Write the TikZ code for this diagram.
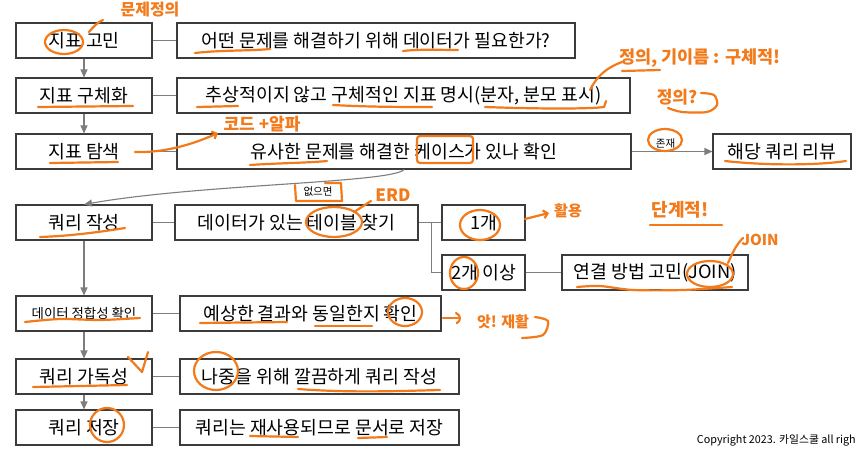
\documentclass[tikz,border=0pt]{standalone}
\usepackage{fontspec}
\setmainfont{Noto Sans CJK KR}
\usetikzlibrary{arrows.meta,positioning,calc}
\definecolor{boxgray}{RGB}{60,60,60}
\definecolor{linegray}{RGB}{125,125,125}
\definecolor{penorange}{RGB}{242,122,26}

\begin{document}
\begin{tikzpicture}[x=1pt,y=-1pt,
  box/.style={draw=boxgray, line width=1.1pt, minimum height=35pt, inner sep=0pt,
    font=\fontsize{18.3}{18.3}\selectfont},
  link/.style={draw=linegray, line width=1.1pt},
  flow/.style={link, -{Triangle[length=8pt,width=7pt]}},
  small/.style={font=\fontsize{10.5}{10.5}\selectfont, inner sep=1pt},
  pen/.style={draw=penorange, line width=2.2pt, line cap=round, line join=round},
  hand/.style={text=penorange, font=\bfseries\fontsize{15}{15}\selectfont, inner sep=0pt}]
  % Page
  \fill[white] (0,0) rectangle (857,450);
  \useasboundingbox (0,0) rectangle (857,450);
  % Left column: steps
  \node[box, minimum width=136pt] (think)  at (84,40.5)  {지표 고민};
  \node[box, minimum width=136pt] (define) at (84,95.5)  {지표 구체화};
  \node[box, minimum width=136pt] (search) at (84,151.5) {지표 탐색};
  \node[box, minimum width=136pt] (write)  at (84,222.5) {쿼리 작성};
  \node[box, minimum width=136pt, font=\fontsize{13.4}{13.4}\selectfont] (check) at (84,313.5) {데이터 정합성 확인};
  \node[box, minimum width=136pt] (tidy)   at (84,376.5) {쿼리 가독성};
  \node[box, minimum width=136pt] (save)   at (84,427.5) {쿼리 저장};
  % Right column: details
  \node[box, minimum width=398pt] (need)    at (376,40.5)  {어떤 문제를 해결하기 위해 데이터가 필요한가?};
  \node[box, minimum width=453pt] (spec)    at (403.5,95.5) {추상적이지 않고 구체적인 지표 명시(분자, 분모 표시)};
  \node[box, minimum width=454pt] (similar) at (404,151.5) {유사한 문제를 해결한 케이스가 있나 확인};
  \node[box, minimum width=138pt] (review)  at (782,151.5) {해당 쿼리 리뷰};
  \node[box, minimum width=243pt] (table)   at (296.5,222.5) {데이터가 있는 테이블 찾기};
  \node[box, minimum width=83pt]  (one)     at (483.5,222.5) {1개};
  \node[box, minimum width=83pt]  (many)    at (483.5,272.5) {2개 이상};
  \node[box, minimum width=186pt] (join)    at (655,272.5) {연결 방법 고민(JOIN)};
  \node[box, minimum width=261pt] (expect)  at (310.5,313.5) {예상한 결과와 동일한지 확인};
  \node[box, minimum width=279pt] (clean)   at (319.5,376.5) {나중을 위해 깔끔하게 쿼리 작성};
  \node[box, minimum width=279pt] (document) at (319.5,427.5) {쿼리는 재사용되므로 문서로 저장};
  % Step to detail
  \draw[link] (think) -- (need);
  \draw[link] (define) -- (spec);
  \draw[link] (search) -- (similar);
  \draw[link] (write) -- (table);
  \draw[link] (check) -- (expect);
  \draw[link] (tidy) -- (clean);
  \draw[link] (save) -- (document);
  % Flow down
  \draw[flow] (think) -- (define);
  \draw[flow] (define) -- (search);
  \draw[flow] (write) -- (check);
  \draw[flow] (check) -- (tidy);
  \draw[flow] (tidy) -- (save);
  \draw[flow] (similar) -- node[small, above=2pt, pos=0.42] (exist) {존재} (review);
  \draw[flow] (similar.south) .. controls (392,183) and (200,184) .. (write.north);
  \node[small] (none) at (318,192) {없으면};
  % Table fork
  \coordinate (fork) at ($(table.east)+(13,0)$);
  \draw[link] (table) -- (one);
  \draw[link] (fork) |- (many);
  \draw[link] (many) -- (join);
  % Copyright
  \node[anchor=base east, inner sep=0pt, font=\fontsize{10.8}{10.8}\selectfont] (copy) at (856,443) {Copyright 2023. 카일스쿨 all righ};

  % Pen notes
  \draw[pen] (64,42) ellipse (19 and 12);
  \draw[pen] (89,32) .. controls (94,26) and (98,22) .. (103,20);
  \node[hand, font=\bfseries\fontsize{16}{16}\selectfont] (note1) at (150,10) {문제정의};
  \draw[pen] (195,53) .. controls (220,50) and (250,51) .. (270,49);
  \draw[pen] (403,51) .. controls (420,49) and (440,50) .. (458,50);
  \draw[pen] (38,107) -- (133,106);
  \draw[pen] (197,107) -- (238,106);
  \draw[pen] (333,105) .. controls (370,107) and (400,107) .. (432,107);
  \draw[pen] (485,107) .. controls (540,109) and (590,109) .. (604,107) -- (606,101);
  \draw[pen] (590,90) .. controls (597,76) and (606,68) .. (622,62);
  \node[hand, font=\bfseries\fontsize{17.5}{17.5}\selectfont] (note2) at (700,58) {정의, 기이름 : 구체적!};
  \draw[pen] (622,71) -- (660,70);
  \node[hand, font=\bfseries\fontsize{17}{17}\selectfont] (note3) at (677,97) {정의?};
  \draw[pen] plot[smooth] coordinates {(701,93) (714,95) (717,105) (707,112) (682,112) (668,108)};
  \draw[pen] (50,163) -- (118,162);
  \draw[pen, -{Straight Barb[length=4pt]}] (135,152) .. controls (170,153) and (200,141) .. (218,133);
  \node[hand, font=\bfseries\fontsize{17}{17}\selectfont] (note4) at (262,124) {코드 +알파};
  \draw[pen] (250,165) .. controls (280,163) and (305,163) .. (327,161);
  \draw[pen, rounded corners=3pt] (417,136) rectangle (473,163);
  \draw[pen] (725,161) .. controls (770,166) and (820,165) .. (846,161);
  \draw[pen] (665,140) ellipse (17 and 11);
  \draw[pen] (325,183) -- (341,183) -- (342,201) -- (296,201) -- (295,185);
  \node[hand, font=\bfseries\fontsize{17}{17}\selectfont] (note5) at (393,195) {ERD};
  \draw[pen] (371,201) -- (354,212);
  \draw[pen] (334,222) ellipse (28 and 15);
  \draw[pen] (40,237) .. controls (70,236) and (100,232) .. (125,228);
  \draw[pen] (480,225) ellipse (20 and 15);
  \draw[pen, -{Straight Barb[length=4pt]}] (525,219) -- (549,213);
  \node[hand] (note6) at (568,211) {활용};
  \node[hand, font=\bfseries\fontsize{18}{18}\selectfont] (note7) at (680,210) {단계적!};
  \draw[pen] (650,225) -- (722,225);
  \node[hand] (note8) at (760,240) {JOIN};
  \draw[pen] (728,263) .. controls (733,252) and (736,245) .. (743,238);
  \draw[pen] (710,274) ellipse (23 and 13);
  \draw[pen] plot[smooth] coordinates {(577,287) (600,286) (633,290) (683,290) (732,287)};
  \draw[pen] (464,273) ellipse (14 and 16);
  \draw[pen] plot[smooth] coordinates {(25,322) (60,319) (100,320) (140,318)};
  \draw[pen] (200,323) -- (287,322);
  \draw[pen] (315,326) -- (372,326);
  \draw[pen] (405,312) ellipse (17 and 14);
  \draw[pen] (443,318) -- (458,318);
  \draw[pen] (456,313) .. controls (461,315) and (461,321) .. (457,323);
  \node[hand] (note9) at (503,322) {앗! 재활};
  \draw[pen] plot[smooth] coordinates {(535,317) (548,321) (543,335) (522,338)};
  \draw[pen] (33,387) -- (127,385);
  \draw[pen] (128,357) -- (142,372) -- (148,352);
  \draw[pen] (216,371) ellipse (22 and 19);
  \draw[pen] (298,389) .. controls (350,393) and (400,391) .. (440,390);
  \draw[pen] (107,425) ellipse (17 and 17);
  \draw[pen] (250,436) -- (298,437);
  \draw[pen] (358,438) -- (387,437);
\end{tikzpicture}
\end{document}
